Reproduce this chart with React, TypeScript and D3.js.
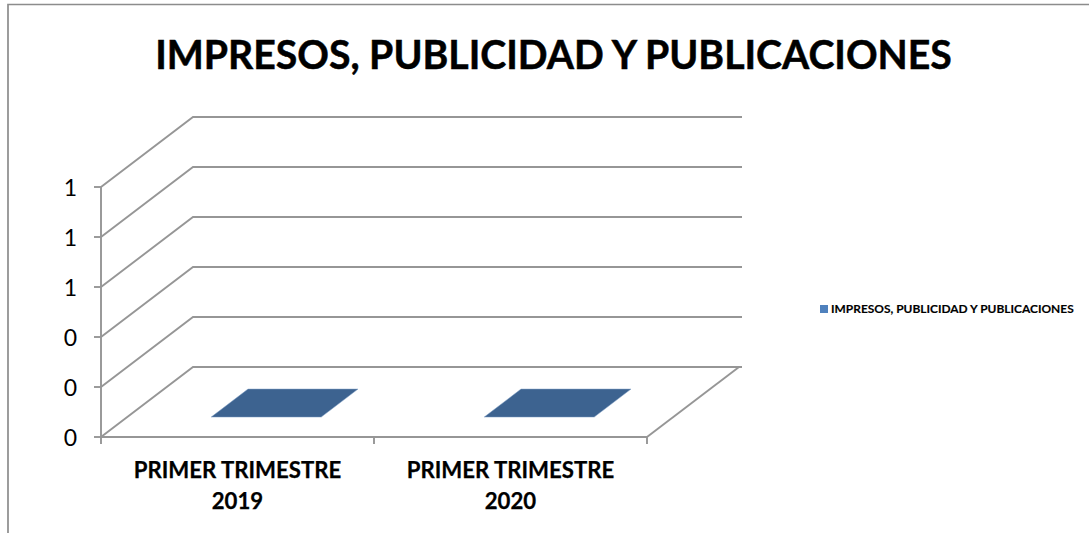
import React from "react";
import * as d3 from "d3";

const categories = [["PRIMER TRIMESTRE", "2019"], ["PRIMER TRIMESTRE", "2020"]];
const seriesValues = [0, 0];
const yTicks = [0, 0.2, 0.4, 0.6, 0.8, 1];
const seriesName = "IMPRESOS, PUBLICIDAD Y PUBLICACIONES";
const titleText = "IMPRESOS, PUBLICIDAD Y PUBLICACIONES";

const FONT = "Lato, 'Open Sans', sans-serif";
const GRID = "#969696";
const SW = 1.9;

export default function App() {
  const y = d3.scaleLinear().domain([0, 1]).range([437, 187]);
  const x = d3.scaleBand<number>().domain([0, 1]).range([101, 647]);
  const depthX = d3.scaleLinear().domain([0, 1]).range([0, 92]);
  const depthY = d3.scaleLinear().domain([0, 1]).range([0, -70]);
  const fmt = d3.format(".0f");
  const barLeft = 84;
  const barWidth = 110;
  const barDepth = [0.285, 0.685];
  const backX = 742 - 92;
  const d1 = depthX(1), e1 = depthY(1);
  const bands = [0, 1, 2].map((i) => 101 + i * x.bandwidth());

  return (
    <svg width={1089} height={533} style={{ position: "absolute", left: 0, top: 0, background: "#fff" }}>
      <path d="M8,533V4.5H1089" fill="none" stroke="#8c8c8c" strokeWidth={1.7} />
      <text x={553.5} y={68.5} textAnchor="middle" fontFamily={FONT} fontWeight={700} fontSize={39.2} fill="#000" stroke="#000" strokeWidth={0.5}>{titleText}</text>

      {yTicks.map((t) => (
        <path key={t} d={`M101,${y(t)}L${101 + d1},${y(t) + e1}H${backX + d1}`} fill="none" stroke={GRID} strokeWidth={SW} />
      ))}
      <path d={`M647,437L${647 + d1},${437 + e1}`} fill="none" stroke={GRID} strokeWidth={SW} />
      <path d="M101,187V437H647" fill="none" stroke={GRID} strokeWidth={SW} />
      {yTicks.map((t) => (
        <line key={t} x1={94} x2={101} y1={y(t)} y2={y(t)} stroke={GRID} strokeWidth={SW} />
      ))}
      {bands.map((b) => (
        <line key={b} x1={b} x2={b} y1={437} y2={444} stroke={GRID} strokeWidth={SW} />
      ))}
      {yTicks.map((t) => (
        <text key={t} x={77} y={y(t) + 9} fontFamily={FONT} fontSize={23} fill="#000" textAnchor="end">{fmt(t)}</text>
      ))}

      {seriesValues.map((v, i) => {
        const left = (x(i) as number) + barLeft;
        const right = left + barWidth;
        const pts = [
          [left + depthX(barDepth[0]), y(v) + depthY(barDepth[0])],
          [right + depthX(barDepth[0]), y(v) + depthY(barDepth[0])],
          [right + depthX(barDepth[1]), y(v) + depthY(barDepth[1])],
          [left + depthX(barDepth[1]), y(v) + depthY(barDepth[1])],
        ];
        return <polygon key={i} points={pts.map((p) => p.join(",")).join(" ")} fill="#3d6390" stroke="#7f9fc4" strokeWidth={0.5} />;
      })}

      {categories.map((lines, i) => (
        <text key={i} textAnchor="middle" fontFamily={FONT} fontWeight={700} fontSize={22.2} fill="#000" stroke="#000" strokeWidth={0.25}>
          {lines.map((l, j) => (
            <tspan key={j} x={(x(i) as number) + x.bandwidth() / 2} y={478 + j * 30.5}>{l}</tspan>
          ))}
        </text>
      ))}

      <rect x={820} y={305} width={8} height={8} fill="#4f81bd" />
      <text x={831} y={313} fontFamily={FONT} fontWeight={700} fontSize={11.95} fill="#000" stroke="#000" strokeWidth={0.15}>{seriesName}</text>
    </svg>
  );
}
